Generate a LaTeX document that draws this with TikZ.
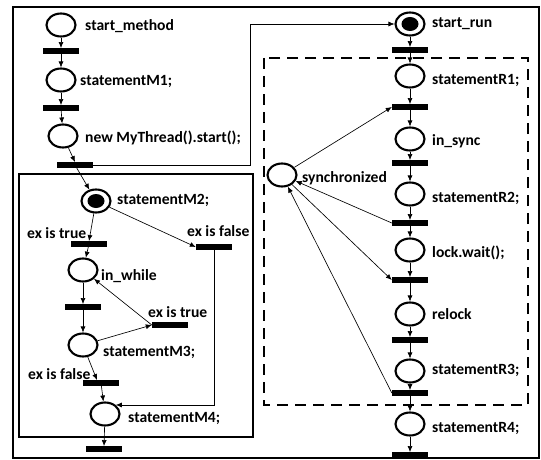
\documentclass[tikz,border=0pt]{standalone}
\usepackage{fontspec}
\setmainfont{Carlito}
\usetikzlibrary{shapes.geometric,arrows.meta}
\begin{document}
\begin{tikzpicture}[x=1pt,y=-1pt,
  place/.style={ellipse,draw,line width=2.1pt,minimum width=29pt,minimum height=23pt,inner sep=0pt},
  bar/.style={fill=black,minimum width=36pt,minimum height=5.5pt,inner sep=0pt},
  lbl/.style={anchor=west,font=\bfseries\fontsize{15.6}{17}\selectfont,inner sep=0pt},
  arr/.style={-{Latex[length=6pt,width=5pt]},line width=0.65pt},
  box/.style={line width=2.3pt},
  dbox/.style={line width=2.3pt,dash pattern=on 11pt off 7pt},
  token/.style={fill=black}
]
\useasboundingbox (0,0) rectangle (541,460);
% frames
\draw[line width=2pt] (13,7) rectangle (539,458);
\draw[box] (19,174) rectangle (253,437);
\draw[dbox] (264,58) rectangle (528,405);
% left column places
\node[place] (pSM) at (61,25) {};
\node[place] (pM1) at (61,80) {};
\node[place] (pNT) at (63,136) {};
\node[place] (pM2) at (96,201) {};
\node[place] (pW) at (83,270) {};
\node[place] (pM3) at (83,345) {};
\node[place] (pM4) at (105,414) {};
\fill[token] (pM2.center) ellipse [x radius=8.5pt, y radius=7pt];
% left column transitions
\node[bar] (t1) at (61,51) {};
\node[bar] (t2) at (61,108) {};
\node[bar] (t3) at (75,165) {};
\node[bar] (tT1) at (89,244) {};
\node[bar] (tF1) at (214,247) {};
\node[bar] (t4) at (83,307) {};
\node[bar] (tT2) at (170,325) {};
\node[bar] (tF2) at (101,383) {};
\node[bar] (t5) at (104,449) {};
% right column places
\node[place] (pSR) at (410,24) {};
\node[place] (pR1) at (410,76) {};
\node[place] (pIS) at (410,139) {};
\node[place] (pR2) at (410,194) {};
\node[place] (pLW) at (410,250) {};
\node[place] (pRL) at (410,314) {};
\node[place] (pR3) at (410,371) {};
\node[place] (pR4) at (410,424) {};
\node[place] (pSY) at (282,175) {};
\fill[token] (pSR.center) ellipse [x radius=8.5pt, y radius=7pt];
% right column transitions
\node[bar] (r0) at (410,50) {};
\node[bar] (r1) at (410,107) {};
\node[bar] (r2) at (410,163) {};
\node[bar] (r3) at (410,223) {};
\node[bar] (r4) at (410,280) {};
\node[bar] (r5) at (410,340) {};
\node[bar] (r6) at (410,393) {};
\node[bar] (r7) at (410,455) {};
% labels
\node[lbl] (lSM) at (85,26) {start\_method};
\node[lbl] (lM1) at (80,81) {statementM1;};
\node[lbl] (lNT) at (85,138) {new MyThread().start();};
\node[lbl] (lM2) at (117,200) {statementM2;};
\node[lbl] (lT1) at (27,233) {ex is true};
\node[lbl] (lF1) at (187,231) {ex is false};
\node[lbl] (lW) at (101,276) {in\_while};
\node[lbl] (lT2) at (148,312) {ex is true};
\node[lbl] (lM3) at (103,352) {statementM3;};
\node[lbl] (lF2) at (28,374) {ex is false};
\node[lbl] (lM4) at (128,418) {statementM4;};
\node[lbl] (lSR) at (432,24) {start\_run};
\node[lbl] (lR1) at (432,80) {statementR1;};
\node[lbl] (lIS) at (432,141) {in\_sync};
\node[lbl] (lSY) at (302,178) {synchronized};
\node[lbl] (lR2) at (432,198) {statementR2;};
\node[lbl] (lLW) at (432,253) {lock.wait();};
\node[lbl] (lRL) at (432,314) {relock};
\node[lbl] (lR3) at (432,370) {statementR3;};
\node[lbl] (lR4) at (432,428) {statementR4;};
% left arcs
\draw[arr] (pSM) -- (t1.north);
\draw[arr] (t1) -- (pM1);
\draw[arr] (pM1) -- (t2.north);
\draw[arr] (t2) -- (pNT);
\draw[arr] (pNT) -- (t3.north);
\draw[arr] (t3) -- (pM2);
\draw[arr] (pM2) -- (tT1.north);
\draw[arr] (tT1) -- (pW);
\draw[arr] (pM2) -- (tF1.west);
\draw[arr] (tF1.center) |- (pM4.40);
\draw[arr] (pW) -- (t4.north);
\draw[arr] (t4) -- (pM3);
\draw[arr] (pM3) -- (tT2.west);
\draw[arr] (tT2.west) -- (pW);
\draw[arr] (pM3) -- ([xshift=-4pt]tF2.north);
\draw[arr] (tF2) -- (pM4);
\draw[arr] (pM4) -- (t5.north);
% thread start
\coordinate (k1) at (250,24);
\draw[arr] (t3.east) -| (k1) -- (pSR);
% right arcs
\draw[arr] (pSR) -- (r0.north);
\draw[arr] (r0) -- (pR1);
\draw[arr] (pR1) -- (r1.north);
\draw[arr] (r1) -- (pIS);
\draw[arr] (pIS) -- (r2.north);
\draw[arr] (r2) -- (pR2);
\draw[arr] (pR2) -- (r3.north);
\draw[arr] (r3) -- (pLW);
\draw[arr] (pLW) -- (r4.north);
\draw[arr] (r4) -- (pRL);
\draw[arr] (pRL) -- (r5.north);
\draw[arr] (r5) -- (pR3);
\draw[arr] (pR3) -- (r6.north);
\draw[arr] (r6) -- (pR4);
\draw[arr] (pR4) -- (r7.north);
% synchronized arcs
\draw[arr] (pSY) -- (r1.west);
\draw[arr] (r3.west) -- (pSY);
\draw[arr] (pSY) -- (r4.west);
\draw[arr] (r6.west) -- (pSY);
\end{tikzpicture}
\end{document}
